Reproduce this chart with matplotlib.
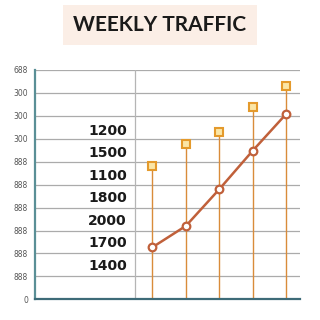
import matplotlib.pyplot as plt
import numpy as np

# valeurs (unites = une ligne de grille)
jours = [0, 1, 2, 3, 4]
trafic = [2.27, 3.20, 4.80, 6.48, 8.08]
pics = [5.81, 6.77, 7.28, 8.39, 9.30]
etiquettes = ['1200', '1500', '1100', '1800', '2000', '1700', '1400']
ticks_y = ['0', '888', '888', '888', '888', '888', '888', '300', '300', '300', '688']

ORANGE = '#d98c3a'
ROUGE = '#c0603a'

fig = plt.figure(figsize=(3.2, 3.2), dpi=100)
ax = fig.add_axes([0.109, 0.0647, 0.830, 0.7166])

ax.set_xlim(-3.52, 4.43)
ax.set_ylim(0, 10)

for y in range(1, 11):
    ax.axhline(y, color='#ababab', lw=0.9, zorder=0)
ax.axvline(-0.53, color='#b5b5b5', lw=0.9, zorder=0)

# tiges + carres
ax.vlines(jours, 0, pics, color=ORANGE, lw=1.0, zorder=1)
ax.plot(jours, pics, 's', ms=5.5, mfc='#fbe6a6', mec='#e49a2c', mew=1.5, ls='none', zorder=3)

# courbe
ax.plot(jours, trafic, '-o', color=ROUGE, lw=1.8, ms=5.5, mfc='white', mec=ROUGE, mew=1.6, zorder=4)

for i, txt in enumerate(etiquettes):
    ax.text(-0.77, 7.35 - 0.98 * i, txt, ha='right', va='center',
            fontsize=10, fontweight='bold', color='#1a1a1a')

ax.set_yticks(range(0, 11))
ax.set_yticklabels(ticks_y, fontsize=5.5, color='#555555')
ax.tick_params(axis='y', length=0, pad=5)
ax.set_xticks([])
for s in ['top', 'right']:
    ax.spines[s].set_visible(False)
ax.spines['left'].set_color('#5a8f96')
ax.spines['left'].set_linewidth(1.6)
ax.spines['bottom'].set_color('#3d6b78')
ax.spines['bottom'].set_linewidth(1.6)

fig.text(0.5, 0.922, 'WEEKLY TRAFFIC', ha='center', va='center',
         fontsize=15, fontweight='bold', family='Lato', color='#1a1a1a',
         bbox=dict(boxstyle='square,pad=0.5', fc='#fbeee6', ec='none'))

plt.savefig('out.png', dpi=100)
